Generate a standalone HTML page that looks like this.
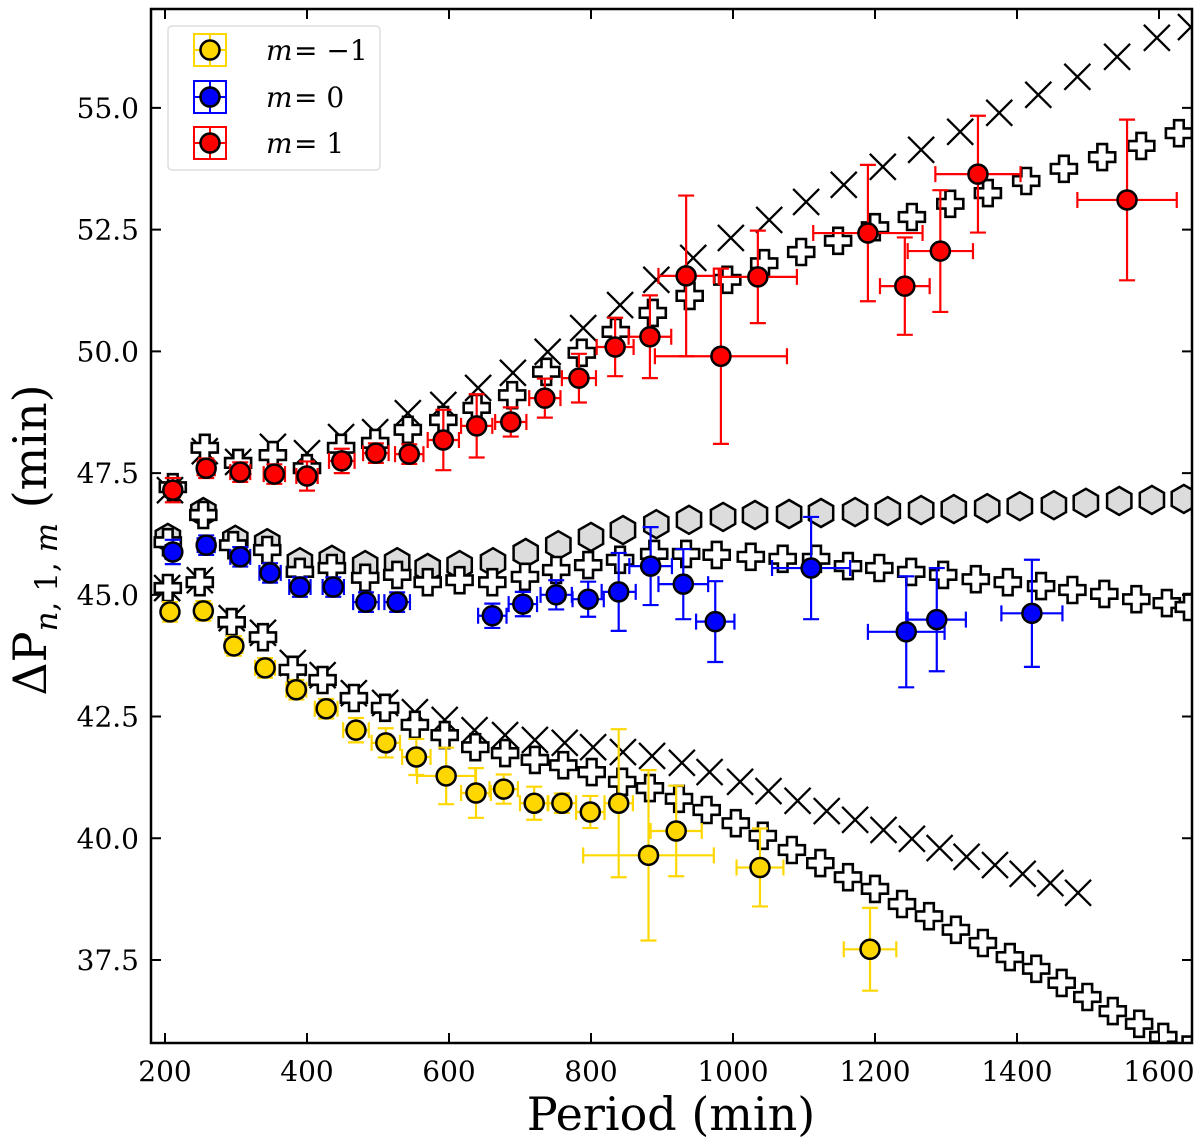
<!DOCTYPE html>
<html><head><meta charset="utf-8">
<style>
html,body{margin:0;padding:0;background:#fff;}
svg{display:block;}
text{font-family:"DejaVu Serif","Liberation Serif",serif;fill:#000;}
</style></head>
<body>
<svg id="chart" width="1200" height="1142" viewBox="0 0 1200 1142" xmlns="http://www.w3.org/2000/svg">
  <defs><clipPath id="plotclip"><rect x="151" y="9" width="1041" height="1034"/></clipPath></defs>
  <g id="plot" clip-path="url(#plotclip)"></g>
  <g id="axes"></g>
  <text x="671" y="1130" font-size="46" text-anchor="middle">Period (min)</text>
  <text transform="translate(46,540) rotate(-90)" font-size="46" text-anchor="middle">ΔP<tspan font-style="italic" font-size="31" dy="11">n</tspan><tspan font-size="31">, 1, </tspan><tspan font-style="italic" font-size="31">m</tspan><tspan dy="-11"> (min)</tspan></text>
  <g>
    <rect x="168" y="26" width="212" height="144" rx="4" fill="#fff" stroke="#ddd" stroke-width="1.5"/>
    <g>
      <rect x="194" y="34" width="32" height="32" fill="none" stroke="#ffd700" stroke-width="2"/>
      <line x1="194" y1="50" x2="226" y2="50" stroke="#ffd700" stroke-width="2"/><line x1="210" y1="34" x2="210" y2="66" stroke="#ffd700" stroke-width="2"/>
      <circle cx="210" cy="50" r="9.5" fill="#ffd700" stroke="#000" stroke-width="2.5"/>
      <text x="266" y="60" font-size="28" font-style="italic">m</text><text x="294" y="60" font-size="28">= −1</text>
    </g>
    <g>
      <rect x="194" y="81" width="32" height="32" fill="none" stroke="#0000ff" stroke-width="2"/>
      <line x1="194" y1="97" x2="226" y2="97" stroke="#0000ff" stroke-width="2"/><line x1="210" y1="81" x2="210" y2="113" stroke="#0000ff" stroke-width="2"/>
      <circle cx="210" cy="97" r="9.5" fill="#0000ff" stroke="#000" stroke-width="2.5"/>
      <text x="266" y="107" font-size="28" font-style="italic">m</text><text x="294" y="107" font-size="28">= 0</text>
    </g>
    <g>
      <rect x="194" y="127" width="32" height="32" fill="none" stroke="#ff0000" stroke-width="2"/>
      <line x1="194" y1="143" x2="226" y2="143" stroke="#ff0000" stroke-width="2"/><line x1="210" y1="127" x2="210" y2="159" stroke="#ff0000" stroke-width="2"/>
      <circle cx="210" cy="143" r="9.5" fill="#ff0000" stroke="#000" stroke-width="2.5"/>
      <text x="266" y="153" font-size="28" font-style="italic">m</text><text x="294" y="153" font-size="28">= 1</text>
    </g>
  </g>
</svg>
<script>
// ---- data ----
const xTicks = [200,400,600,800,1000,1200,1400,1600];
const yTicks = [37.5,40.0,42.5,45.0,47.5,50.0,52.5,55.0];
const yTickLabels = ["37.5","40.0","42.5","45.0","47.5","50.0","52.5","55.0"];

const upperXP = [207,256,303,352,400,448,496,542,592,641,690,739,789,841,892,944,997,1051,1103,1156,1211,1265,1320,1375,1430,1485,1541,1597,1645];
const upperXV = [47.15,47.95,47.73,48.04,47.91,48.24,48.34,48.73,48.90,49.25,49.56,49.99,50.48,50.95,51.47,51.92,52.33,52.70,53.07,53.42,53.79,54.14,54.51,54.90,55.27,55.64,56.05,56.44,56.66];

const lowerXP = [203,249,294,338,380,422,466,510,552,594,636,679,721,763,803,845,886,928,967,1010,1050,1091,1132,1172,1212,1252,1291,1329,1369,1408,1447,1486];
const lowerXV = [45.14,45.30,44.52,44.22,43.60,43.35,42.98,42.78,42.59,42.43,42.22,42.12,42.02,41.96,41.87,41.77,41.69,41.55,41.36,41.16,40.97,40.77,40.56,40.38,40.17,39.99,39.80,39.62,39.45,39.27,39.08,38.88];

const upperPlusP = [211,256,303,352,400,448,496,542,592,639,689,737,787,835,887,939,992,1044,1096,1148,1200,1252,1306,1359,1413,1466,1520,1575,1628];
const upperPlusV = [47.21,48.02,47.71,47.87,47.60,48.02,48.12,48.39,48.59,48.84,49.10,49.58,49.97,50.40,50.79,51.14,51.47,51.81,52.04,52.27,52.55,52.76,53.03,53.25,53.50,53.75,53.99,54.22,54.48];

const midPlusP = [204,254,296,344,390,435,482,527,570,615,661,707,751,796,841,889,934,977,1025,1070,1117,1162,1206,1251,1296,1342,1387,1434,1478,1523,1568,1611,1642];
const midPlusV = [46.08,46.64,46.02,45.92,45.47,45.55,45.35,45.41,45.26,45.30,45.26,45.37,45.51,45.61,45.72,45.84,45.84,45.82,45.78,45.74,45.74,45.59,45.55,45.47,45.41,45.32,45.26,45.18,45.10,45.02,44.91,44.83,44.75];

const lowerPlusP = [204,249,294,338,380,422,466,510,552,594,637,679,721,761,801,844,883,924,963,1004,1042,1083,1123,1162,1200,1238,1276,1314,1352,1390,1427,1463,1499,1535,1572,1606,1640];
const lowerPlusV = [45.14,45.26,44.44,44.13,43.46,43.25,42.88,42.68,42.33,42.12,41.87,41.75,41.61,41.50,41.36,41.16,41.03,40.81,40.58,40.31,40.05,39.76,39.49,39.20,38.96,38.65,38.40,38.12,37.85,37.56,37.32,37.03,36.74,36.45,36.19,35.92,35.66];

const hexP = [204,254,299,344,390,435,482,527,570,615,662,708,754,800,845,892,938,986,1031,1079,1124,1172,1218,1265,1311,1358,1404,1452,1497,1544,1590,1635];
const hexV = [46.17,46.70,46.13,46.06,45.67,45.72,45.61,45.67,45.55,45.61,45.67,45.86,46.02,46.19,46.33,46.45,46.54,46.60,46.64,46.66,46.68,46.70,46.72,46.74,46.76,46.78,46.82,46.84,46.89,46.93,46.95,46.97];

const redP  = [211,258,306,354,400,449,497,544,592,639,687,735,783,834,883,934,983,1035,1190,1242,1292,1345,1555];
const redV  = [47.15,47.6,47.52,47.48,47.44,47.75,47.91,47.89,48.18,48.47,48.55,49.04,49.45,50.09,50.30,51.55,49.90,51.53,52.43,51.34,52.06,53.64,53.11];
const redXE = [10,12,14,15,15,18,18,20,22,22,22,22,24,26,30,39,93,55,77,35,46,60,70];
const redYE = [0.25,0.2,0.2,0.2,0.3,0.25,0.2,0.2,0.62,0.65,0.3,0.4,0.5,0.6,0.85,1.65,1.8,0.95,1.4,1.0,1.25,1.2,1.65];

const blueP  = [211,258,306,348,390,437,483,527,661,704,751,796,839,884,930,975,1110,1244,1287,1421];
const blueV  = [45.88,46.02,45.78,45.45,45.16,45.16,44.85,44.85,44.57,44.81,45.0,44.91,45.06,45.59,45.22,44.45,45.55,44.24,44.49,44.62];
const blueXE = [10,12,14,15,15,15,18,18,20,20,22,22,24,30,35,27,55,54,41,43];
const blueYE = [0.25,0.2,0.2,0.2,0.2,0.2,0.2,0.2,0.25,0.25,0.3,0.36,0.8,0.8,0.72,0.83,1.05,1.14,1.06,1.1];

const yelP  = [207,254,297,341,385,427,469,511,554,596,638,677,720,759,799,839,881,920,1038,1193];
const yelV  = [44.65,44.67,43.95,43.50,43.05,42.66,42.22,41.96,41.67,41.28,40.93,41.01,40.72,40.72,40.54,40.72,39.65,40.15,39.40,37.72];
const yelXE = [10,12,12,14,14,16,18,20,20,41,21,20,20,20,20,20,92,36,33,37];
const yelYE = [0.2,0.2,0.2,0.2,0.2,0.2,0.25,0.3,0.37,0.58,0.51,0.3,0.34,0.2,0.33,1.52,1.75,0.93,0.8,0.85];

// ---- axis functions ----
function xs(p){ return 165 + (p - 200) * 0.71; }
function ys(v){ return 960 - (v - 37.5) * 48.69; }

const NS = "http://www.w3.org/2000/svg";
const plot = document.getElementById('plot');
const axes = document.getElementById('axes');
function mk(tag, attrs, parent){
  const e = document.createElementNS(NS, tag);
  for (const k in attrs) e.setAttribute(k, attrs[k]);
  parent.appendChild(e);
  return e;
}

const hexG = mk('g', {}, plot);


hexP.forEach((p, i) => {
  const cx = xs(p), cy = ys(hexV[i]), r = 14;
  let pts = [];
  for (let k = 0; k < 6; k++){ const a = Math.PI/2 + k*Math.PI/3; pts.push((cx + r*Math.cos(a)).toFixed(1) + ',' + (cy - r*Math.sin(a)).toFixed(1)); }
  const h = mk('polygon', {points: pts.join(' '), fill: '#dcdcdc', stroke: '#000', 'stroke-width': 2.5}, hexG);
  
  
});

function plusPts(cx, cy){
  const a = 13, w = 4.8;
  const P = [[-w,-a],[w,-a],[w,-w],[a,-w],[a,w],[w,w],[w,a],[-w,a],[-w,w],[-a,w],[-a,-w],[-w,-w]];
  return P.map(q => (cx+q[0]).toFixed(1)+','+(cy+q[1]).toFixed(1)).join(' ');
}
function drawPlus(P, V, name){
  const g = mk('g', {}, plot);
  
  
  P.forEach((p, i) => {
    const m = mk('polygon', {points: plusPts(xs(p), ys(V[i])), fill: '#fff', stroke: '#000', 'stroke-width': 2.6, 'stroke-linejoin': 'miter'}, g);
    
    
  });
}
function drawX(P, V, name){
  const g = mk('g', {}, plot);
  
  
  P.forEach((p, i) => {
    const cx = xs(p), cy = ys(V[i]), s = 13;
    const m = mk('path', {d: `M${cx-s},${cy-s}L${cx+s},${cy+s}M${cx-s},${cy+s}L${cx+s},${cy-s}`, stroke: '#000', 'stroke-width': 2.3, fill: 'none'}, g);
    
    
  });
}
drawPlus(midPlusP, midPlusV, 'model-plus-m0-series');
drawX(upperXP, upperXV, 'model-x-m1-series');
drawPlus(upperPlusP, upperPlusV, 'model-plus-m1-series');
drawX(lowerXP, lowerXV, 'model-x-m-minus-1-series');
drawPlus(lowerPlusP, lowerPlusV, 'model-plus-m-minus-1-series');

function drawData(P, V, XE, YE, color, name){
  const g = mk('g', {}, plot);
  
  
  P.forEach((p, i) => {
    const cx = xs(p), cy = ys(V[i]);
    const x1 = xs(p - XE[i]), x2 = xs(p + XE[i]);
    const y1 = ys(V[i] + YE[i]), y2 = ys(V[i] - YE[i]);
    const c = 8;
    const eb = mk('path', {d: `M${x1},${cy}L${x2},${cy}M${x1},${cy-c}L${x1},${cy+c}M${x2},${cy-c}L${x2},${cy+c}M${cx},${y1}L${cx},${y2}M${cx-c},${y1}L${cx+c},${y1}M${cx-c},${y2}L${cx+c},${y2}`, stroke: color, 'stroke-width': 2.2, fill: 'none'}, g);
    
    
  });
  P.forEach((p, i) => {
    const pt = mk('circle', {cx: xs(p), cy: ys(V[i]), r: 9.5, fill: color, stroke: '#000', 'stroke-width': 2.5}, g);
    
    
  });
}
drawData(yelP, yelV, yelXE, yelYE, '#ffd700', 'observed-m-minus-1-series');
drawData(blueP, blueV, blueXE, blueYE, '#0000ff', 'observed-m0-series');
drawData(redP, redV, redXE, redYE, '#ff0000', 'observed-m1-series');

const L = 151, R = 1192, T = 9, B = 1043;
const frame = mk('rect', {x: L, y: T, width: R-L, height: B-T, fill: 'none', stroke: '#000', 'stroke-width': 2.5}, axes);


xTicks.forEach(t => {
  const x = xs(t);
  const tk = mk('path', {d: `M${x},${B}L${x},${B-10}M${x},${T}L${x},${T+10}`, stroke: '#000', 'stroke-width': 2}, axes);
  
  
  const lb = mk('text', {x: x, y: 1081, 'font-size': 28, 'text-anchor': 'middle'}, axes);
  
  
  lb.textContent = String(t);
});
yTicks.forEach((t, i) => {
  const y = ys(t);
  const tk = mk('path', {d: `M${L},${y}L${L+10},${y}M${R},${y}L${R-10},${y}`, stroke: '#000', 'stroke-width': 2}, axes);
  
  
  const lb = mk('text', {x: 139, y: y + 10, 'font-size': 28, 'text-anchor': 'end'}, axes);
  
  
  lb.textContent = yTickLabels[i];
});
</script>
</body></html>
